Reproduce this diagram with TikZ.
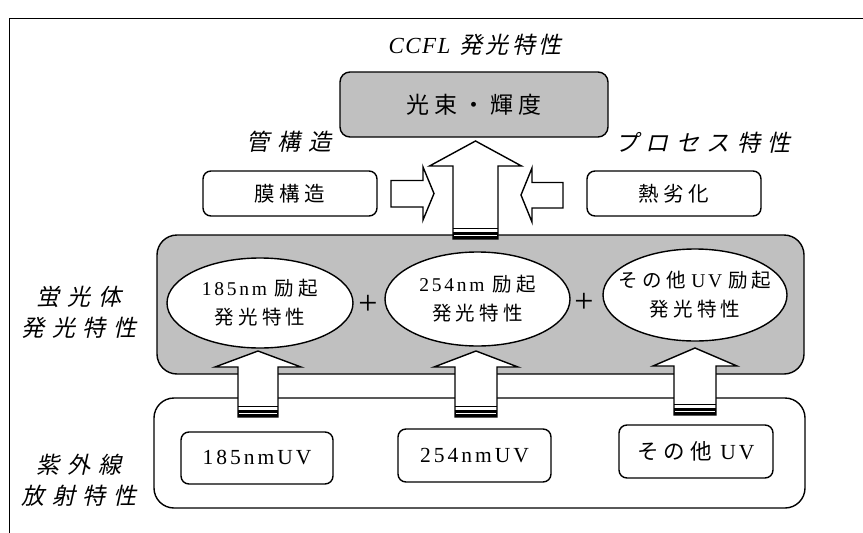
\documentclass[tikz,border=0pt]{standalone}
\usepackage{fontspec}
\setmainfont{Liberation Serif}
\newfontfamily\jp[LetterSpace=22]{Noto Sans CJK JP}
\newfontfamily\jpit[LetterSpace=33,FakeSlant=0.22]{Noto Sans CJK JP}
\newfontfamily\jpti[LetterSpace=14,FakeSlant=0.22]{Noto Sans CJK JP}
\newfontfamily\ls[LetterSpace=14]{Liberation Serif}
\newfontfamily\lsit[LetterSpace=6]{Liberation Serif Italic}
\newcommand\gap{\hspace{0.4em}}
\definecolor{boxgray}{HTML}{C0C0C0}
\newcommand\blockup[6]{%
  \draw[arrowline] ({#1-#2},#6) -- ({#1-#2},#5) -- ({#1-#3},#5) -- (#1,#4) -- ({#1+#3},#5) -- ({#1+#2},#5) -- ({#1+#2},#6) -- cycle;
  \fill ({#1-#2},{#6-7}) rectangle ({#1+#2},#6);
  \draw[line width=0.8pt] ({#1-#2},{#6-11}) -- ({#1+#2},{#6-11});
  \draw[white,line width=0.6pt] ({#1-#2+0.9},{#6-3.5}) -- ({#1+#2-0.9},{#6-3.5});
}
\usetikzlibrary{shapes.geometric}
\tikzset{
  outline/.style={draw=black,line width=1.4pt},
  graybox/.style={outline,fill=boxgray,rounded corners=10pt},
  bigbox/.style={outline,rounded corners=20pt},
  smallbox/.style={outline,fill=white,rounded corners=8pt},
  ell/.style={outline,fill=white,ellipse},
  arrowline/.style={draw=black,line width=1.4pt,fill=white,line join=miter},
  lbl/.style={align=center,font=\fontsize{23}{31}\selectfont},
  boxtxt/.style={font=\fontsize{20.5}{24}\selectfont},
  elltxt/.style={align=center,font=\fontsize{19.5}{29}\selectfont},
  plus/.style={font=\fontsize{34}{34}\selectfont},
}
\begin{document}
\begin{tikzpicture}[x=1pt,y=-1pt,every node/.style={inner sep=0pt,outer sep=0pt}]
\useasboundingbox (0,0) rectangle (863,533);
\draw[line width=1pt] (9,533) -- (9,18) -- (863,18);
% titles
\node[lbl] (title) at (475,45) {{\lsit CCFL}\gap{\jpti 発光特性}};
\node[lbl] (kan) at (289,142) {\jpit 管構造};
\node[lbl] (proc) at (703,143) {\jpit プロセス特性};
\node[lbl] (keiko) at (79,312) {\jpit 蛍光体\\\jpit 発光特性};
\node[lbl] (shigai) at (79,480) {\jpit 紫外線\\\jpit 放射特性};
% top box
\node[graybox,minimum width=268pt,minimum height=65pt,font=\fontsize{23}{26}\selectfont] (flux) at (474,104.5) {\jp 光束・輝度};
% side boxes
\node[smallbox,minimum width=174pt,minimum height=45pt,boxtxt] (maku) at (290,193.5) {\jp 膜構造};
\node[smallbox,minimum width=174pt,minimum height=45pt,boxtxt] (netsu) at (674,193.5) {\jp 熱劣化};
% big gray box
\node[bigbox,fill=boxgray,minimum width=647pt,minimum height=139pt] (phos) at (480.5,304.5) {};
% ellipses
\node[ell,minimum width=186pt,minimum height=90pt] (e1) at (260,303) {};
\node[ell,minimum width=185pt,minimum height=94pt] (e2) at (477.5,299) {};
\node[ell,minimum width=184pt,minimum height=92pt] (e3) at (695,295) {};
\node[elltxt] (t1) at (e1) {{\ls 185nm}\gap{\jp 励起}\\{\jp 発光特性}};
\node[elltxt] (t2) at (e2) {{\ls 254nm}\gap{\jp 励起}\\{\jp 発光特性}};
\node[elltxt] (t3) at (e3) {{\jp その他}\hspace{0.3em}{\ls UV}\hspace{0.3em}{\jp 励起}\\{\jp 発光特性}};
\node[plus] (p1) at (368,305) {+};
\node[plus] (p2) at (584,303) {+};
% lower box
\node[bigbox,fill=white,minimum width=651pt,minimum height=110pt] (uv) at (479.5,453) {};
\node[smallbox,minimum width=152pt,minimum height=52pt,font=\fontsize{21.5}{24}\selectfont] (u1) at (257,458) {\ls 185nmUV};
\node[smallbox,minimum width=153pt,minimum height=53pt,font=\fontsize{21.5}{24}\selectfont] (u2) at (474.5,455.5) {\ls 254nmUV};
\node[smallbox,minimum width=154pt,minimum height=53pt,font=\fontsize{21.5}{24}\selectfont] (u3) at (696,451.5) {{\jp その他}\gap{\ls UV}};
% block arrows
\blockup{475.5}{22.5}{46}{141}{166}{239}
\blockup{258}{20}{43}{351}{367}{417}
\blockup{476}{21}{42}{351}{367}{417}
\blockup{695}{21}{42}{348}{366}{415}
\draw[arrowline] (391,180.5) -- (423,180.5) -- (423,167) -- (434,193.5) -- (423,220) -- (423,207) -- (391,207) -- cycle;
\draw[arrowline] (563,182.5) -- (532,182.5) -- (532,168) -- (521,195) -- (532,222) -- (532,208) -- (563,208) -- cycle;
\end{tikzpicture}
\end{document}
